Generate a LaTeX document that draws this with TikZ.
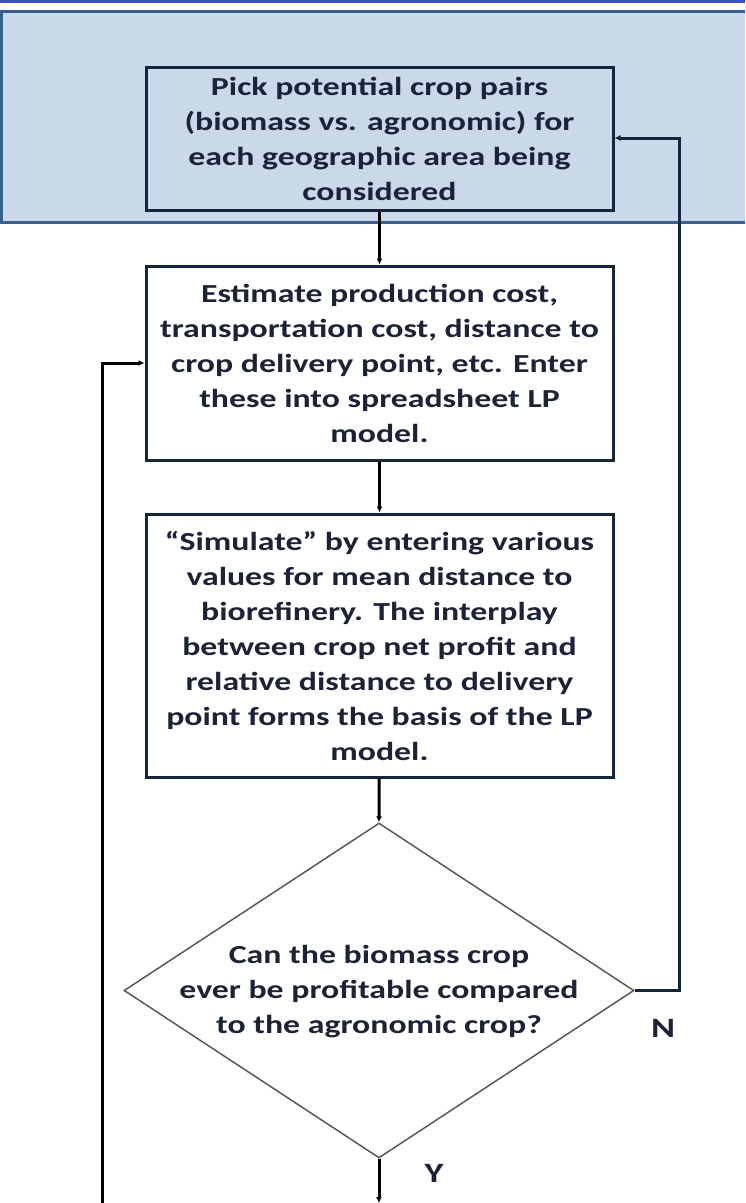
\documentclass[tikz,border=0pt]{standalone}
\usepackage{fontspec}
\setmainfont{Carlito}[FakeStretch=1.3]
\usetikzlibrary{arrows.meta,positioning,shapes.geometric}

\definecolor{topblue}{HTML}{3F4FC8}
\definecolor{bandfill}{HTML}{C9D9E9}
\definecolor{bandline}{HTML}{3A5F8E}
\definecolor{boxline}{HTML}{15253A}
\definecolor{txt}{HTML}{1C2338}

\tikzset{
  procbox/.style={draw=boxline, line width=3pt, rectangle, minimum width=467pt,
    inner sep=0pt, align=center, text=txt, font=\fontsize{26}{35}\selectfont\bfseries},
  decision/.style={draw=black!65, line width=1.5pt, diamond, minimum width=510pt,
    minimum height=335pt, inner sep=0pt},
  dectext/.style={align=center, text=txt, font=\fontsize{26}{35}\selectfont\bfseries},
  branch/.style={text=txt, font=\fontsize{28}{32}\selectfont\bfseries},
  flow/.style={line width=3pt, -{Latex[length=6pt,width=6pt]}},
}

\begin{document}
\begin{tikzpicture}[x=1pt,y=-1pt]
    \useasboundingbox (0,0) rectangle (745,1203);
    \clip (0,0) rectangle (745,1203);
    \fill[white] (0,0) rectangle (745,1203);

    % header band
    \fill[topblue] (0,0) rectangle (745,3);
    \draw[bandline, line width=3pt, fill=bandfill] (1.5,11.5) rectangle (760,222);

    % process boxes
    \node[procbox, minimum height=143pt] (pick) at (379.5,138.5)
      {Pick potential crop pairs\\(biomass vs. agronomic) for\\each geographic area being\\considered};
    \node[procbox, minimum height=194pt] (estimate) at (379.5,363)
      {Estimate production cost,\\transportation cost, distance to\\crop delivery point, etc. Enter\\these into spreadsheet LP\\model.};
    \node[procbox, minimum height=263pt] (simulate) at (379.5,645.5)
      {``Simulate'' by entering various\\values for mean distance to\\biorefinery. The interplay\\between crop net profit and\\relative distance to delivery\\point forms the basis of the LP\\model.};

    % decision
    \node[decision] (profit) at (379,990.5) {};
    \node[dectext] (profittext) at (379,992) {Can the biomass crop\\ever be profitable compared\\to the agronomic crop?};

    % labels
    \node[branch] (nlabel) at (663,1028) {N};
    \node[branch] (ylabel) at (434,1173) {Y};

    % free ends at the bottom edge
    \coordinate (down) at (379,1203);
    \coordinate (loopstart) at (102,1203);

    % connectors
    \draw[flow] (pick) -- (estimate);
    \draw[flow] (estimate) -- (simulate);
    \draw[flow] (simulate) -- (profit.north);
    \draw[flow, boxline] (profit.east) -| (679,138) -- (pick.east |- 0,138);
    \draw[flow] (profit.south) -- (down);
    \draw[flow] (loopstart) |- (estimate.west);
\end{tikzpicture}
\end{document}
